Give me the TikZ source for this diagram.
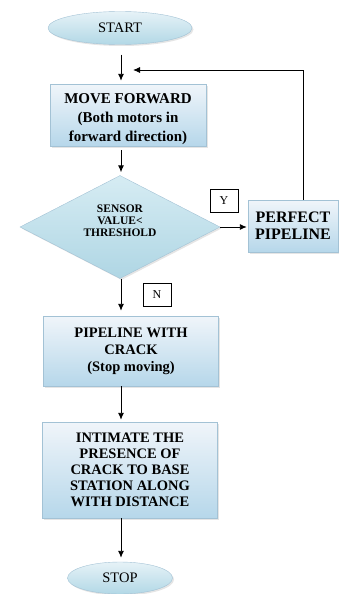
\documentclass[tikz,border=0pt]{standalone}
\usepackage{fontspec}
\setmainfont{Liberation Serif}
\usetikzlibrary{shapes.geometric,shadows,arrows.meta}
\definecolor{boxtop}{HTML}{F0F5FA}
\definecolor{boxbot}{HTML}{B6D7EA}
\definecolor{termtop}{HTML}{E6F2F7}
\definecolor{termbot}{HTML}{B2D8E6}
\definecolor{dectop}{HTML}{D6ECF3}
\definecolor{decbot}{HTML}{AFD6E4}
\definecolor{boxline}{HTML}{A3C2D5}
\begin{document}
\begin{tikzpicture}[x=1pt,y=-1pt]
	\tikzset{>={Latex[length=7pt,width=6pt]}}
	\tikzset{
		shade/.style={drop shadow={shadow xshift=1.5pt,shadow yshift=-1.5pt,fill=gray!40}},
		procbox/.style={rectangle, draw=boxline, top color=boxtop, bottom color=boxbot, shade, align=center, inner sep=2pt, font=\bfseries\fontsize{14.5}{17}\selectfont},
		termnode/.style={ellipse, draw=boxline, top color=termtop, bottom color=termbot, shade, inner sep=0pt, font=\fontsize{14.5}{17}\selectfont},
		decnode/.style={diamond, draw=boxline, top color=dectop, bottom color=decbot, shade, inner sep=0pt, minimum width=200pt, minimum height=103pt, font=\bfseries\fontsize{11.5}{12}\selectfont},
		tagbox/.style={rectangle, draw, fill=white, inner sep=0pt, minimum width=28pt, minimum height=23pt, font=\fontsize{12}{12}\selectfont},
		flow/.style={->, line width=0.9pt}
	}
	\useasboundingbox (0,0) rectangle (339,594);

	\coordinate (col) at (121,0);
	\coordinate (loopx) at (303,0);
	\coordinate (back) at (133,70);

	\node[termnode, minimum width=144pt, minimum height=33pt] (start) at (120,28) {START};
	\node[procbox, minimum width=156pt, minimum height=62pt, font=\bfseries\fontsize{15}{19}\selectfont] (move) at (128,115) {\raisebox{-7pt}[0pt][0pt]{\begin{tabular}{@{}c@{}}MOVE FORWARD\\(Both motors in\\forward direction)\end{tabular}}};
	\node[decnode] (sensor) at (120,227) {\raisebox{2pt}[0pt][0pt]{\begin{tabular}{@{}c@{}}SENSOR\\VALUE<\\THRESHOLD\end{tabular}}};
	\node[procbox, minimum width=90pt, minimum height=52pt, font=\bfseries\fontsize{16}{17}\selectfont] (perfect) at (293,226) {PERFECT\\PIPELINE};
	\node[procbox, minimum width=175pt, minimum height=70pt] (crack) at (131,351) {PIPELINE WITH\\CRACK\\(Stop moving)};
	\node[procbox, minimum width=175pt, minimum height=96pt, font=\bfseries\fontsize{14.5}{16}\selectfont] (inform) at (130,470) {INTIMATE THE\\PRESENCE OF\\CRACK TO BASE\\STATION ALONG\\WITH DISTANCE};
	\node[termnode, minimum width=105pt, minimum height=32pt] (stop) at (120,578) {STOP};

	\node[tagbox] (yes) at (224,201) {Y};
	\node[tagbox] (no) at (157,295) {N};

	\draw[flow, shorten <=10pt, shorten >=3pt] (start.south -| col) -- (move.north -| col);
	\draw[flow, shorten <=4pt, shorten >=3pt] (move.south -| col) -- (sensor.north -| col);
	\draw[flow, shorten >=5pt] (sensor.south -| col) -- (crack.north -| col);
	\draw[flow, shorten >=2pt] (crack.south -| col) -- (inform.north -| col);
	\draw[flow, shorten >=4pt] (inform.south -| col) -- (stop.north -| col);
	\draw[flow, shorten >=1pt] (sensor.east) -- (perfect.west |- sensor.east);
	\draw[flow] (perfect.north -| loopx) |- (back);
\end{tikzpicture}
\end{document}
